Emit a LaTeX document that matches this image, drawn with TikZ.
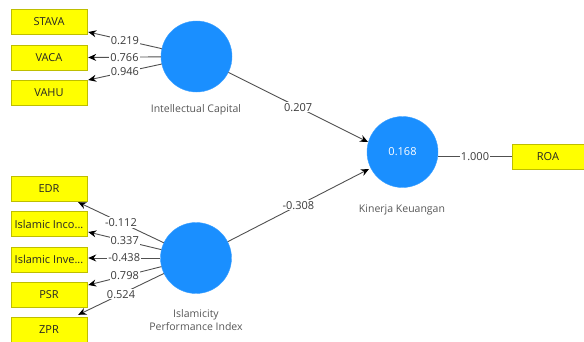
\documentclass[tikz,border=0pt]{standalone}
\usepackage{fontspec}
\setmainfont{Open Sans}
\usetikzlibrary{arrows.meta,calc}
\definecolor{boxfill}{HTML}{FFFF00}
\definecolor{boxline}{HTML}{BEBE00}
\definecolor{lvfill}{HTML}{1A8FFF}
\definecolor{edgec}{HTML}{505050}
\definecolor{lblc}{HTML}{3A3A3A}
\begin{document}
\begin{tikzpicture}[x=1pt,y=-1pt,
  ind/.style={draw=boxline,fill=boxfill,minimum width=76pt,minimum height=25pt,inner sep=1pt,font=\fontsize{11}{12}\selectfont,text=black!85},
  lvar/.style={circle,fill=lvfill,draw=lvfill!85!white,minimum size=71pt,inner sep=0pt,font=\fontsize{11}{12}\selectfont,text=white},
  lvcaption/.style={font=\fontsize{10.5}{13.5}\selectfont,text=lblc!85,align=center},
  conn/.style={draw=edgec,line width=0.9pt},
  arr/.style={conn,-{Stealth[length=8pt,width=7pt,black]}},
  wl/.style={fill=white,inner sep=1pt,font=\fontsize{11}{12}\selectfont,text=lblc}]
\useasboundingbox (0,0) rectangle (584,341);
% indicator boxes
\node[ind] (STAVA) at (49,21.5) {STAVA};
\node[ind] (VACA) at (49,57.5) {VACA};
\node[ind] (VAHU) at (49,92.5) {VAHU};
\node[ind] (EDR) at (49,188.5) {EDR};
\node[ind] (IInco) at (49,224) {Islamic Inco...};
\node[ind] (IInve) at (49,259.5) {Islamic Inve...};
\node[ind] (PSR) at (49,294.5) {PSR};
\node[ind] (ZPR) at (49,329.5) {ZPR};
\node[ind,minimum width=72pt] (ROA) at (548,156.5) {ROA};
% latent variables
\node[lvar] (IC) at (196.5,56.5) {};
\node[lvar] (IPI) at (196,258) {};
\node[lvar] (KIN) at (402.5,152) {0.168};
\node[lvcaption] (capIC) at (196,110) {Intellectual Capital};
\node[lvcaption] (capIPI) at (196,320) {Islamicity\\Performance Index};
\node[lvcaption] (capKIN) at (402,210) {Kinerja Keuangan};
% arrow tips
\coordinate (tSTAVA) at ($(STAVA.east)+(1,10.5)$);
\coordinate (tVACA) at ($(VACA.east)+(1,0)$);
\coordinate (tVAHU) at ($(VAHU.east)+(1,-12.5)$);
\coordinate (tEDR) at ($(EDR.south east)+(-9,1)$);
\coordinate (tIInco) at ($(IInco.east)+(1,8)$);
\coordinate (tIInve) at ($(IInve.east)+(1,-1.5)$);
\coordinate (tPSR) at ($(PSR.east)+(1,-9.5)$);
\coordinate (tZPR) at ($(ZPR.north east)+(-9,-2)$);
\coordinate (tKIN1) at ($(KIN.center)+(-34.5,-10)$);
\coordinate (tKIN2) at ($(KIN.center)+(-33.5,17)$);
% connectors
\draw[arr] (IC) -- node[wl]{0.219} (tSTAVA);
\draw[arr] (IC) -- node[wl]{0.766} (tVACA);
\draw[arr] (IC) -- node[wl]{0.946} (tVAHU);
\draw[arr] (IPI) -- node[wl]{-0.112} (tEDR);
\draw[arr] (IPI) -- node[wl]{0.337} (tIInco);
\draw[arr] (IPI) -- node[wl]{-0.438} (tIInve);
\draw[arr] (IPI) -- node[wl]{0.798} (tPSR);
\draw[arr] (IPI) -- node[wl]{0.524} (tZPR);
\draw[arr] (IC) -- node[wl]{0.207} (tKIN1);
\draw[arr] (IPI) -- node[wl]{-0.308} (tKIN2);
\draw[conn] (KIN.east |- ROA.west) -- node[wl]{1.000} (ROA.west);
\end{tikzpicture}
\end{document}
